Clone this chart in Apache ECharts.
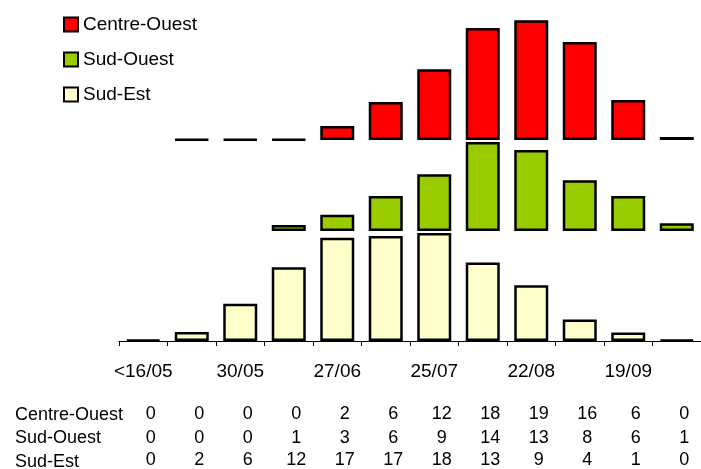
<!DOCTYPE html>
<html>
<head>
<meta charset="utf-8">
<script src="https://cdn.jsdelivr.net/npm/echarts@6/dist/echarts.min.js"></script>
<style>
html, body { margin: 0; padding: 0; background: #fff; }
#main { width: 701px; height: 469px; }
</style>
</head>
<body>
<div id="main"></div>
<script>
// periodes (une sur deux est etiquetee)
var categories = ['<16/05', '', '30/05', '', '27/06', '', '25/07', '', '22/08', '', '19/09', ''];
var nomsSeries = ['Centre-Ouest', 'Sud-Ouest', 'Sud-Est'];

// hauteurs des barres
var centreOuest = [null, 0.1, 0.1, 0.1, 2.3, 6.3, 11.7, 18.5, 19.8, 16.2, 6.6, 0.5];
var sudOuest = [null, null, null, 1.0, 2.7, 5.8, 9.4, 14.7, 13.4, 8.4, 5.8, 1.3];
var sudEst = [0.2, 1.5, 6.2, 12.3, 17.2, 17.5, 18, 13.1, 9.3, 3.6, 1.4, 0.2];

// valeurs du tableau
var tableCentreOuest = [0, 0, 0, 0, 2, 6, 12, 18, 19, 16, 6, 0];
var tableSudOuest = [0, 0, 0, 1, 3, 6, 9, 14, 13, 8, 6, 1];
var tableSudEst = [0, 2, 6, 12, 17, 17, 18, 13, 9, 4, 1, 0];

var couleurs = ['#ff0000', '#99cc00', '#ffffcc'];
var police = 'Liberation Sans, Arial, sans-serif';

function grille(top) {
	return { left: 119, right: -6, top: top, height: 121 };
}

function axeX(index, visible) {
	return {
		type: 'category',
		gridIndex: index,
		data: categories,
		axisLine: { show: visible, lineStyle: { color: '#000', width: 1 } },
		axisTick: { show: visible, length: 5, lineStyle: { color: '#000' } },
		axisLabel: {
			show: visible, interval: 0, margin: 21,
			fontSize: 19, color: '#000', fontFamily: police
		}
	};
}

function axeTableau(valeurs, offset) {
	return {
		type: 'category',
		gridIndex: 2,
		position: 'bottom',
		offset: offset,
		data: valeurs.map(String),
		axisLine: { show: false },
		axisTick: { show: false },
		axisLabel: {
			interval: 0, margin: 0, padding: [0, 0, 0, 15],
			fontSize: 18, color: '#000', fontFamily: police
		}
	};
}

function axeY(index) {
	return { type: 'value', gridIndex: index, min: 0, max: 20, show: false, splitLine: { show: false } };
}

function serie(nom, donnees, index, couleur) {
	return {
		name: nom,
		type: 'bar',
		xAxisIndex: index,
		yAxisIndex: index,
		data: donnees,
		barWidth: 34,
		itemStyle: { color: couleur, borderColor: '#000', borderWidth: 2.5 },
		emphasis: { disabled: true }
	};
}

var myChart = echarts.init(document.getElementById('main'));
option = {
	animation: false,
	legend: {
		orient: 'vertical',
		left: 58,
		top: 10,
		itemWidth: 14,
		itemHeight: 14,
		itemGap: 16,
		icon: 'rect',
		textStyle: { fontSize: 19, color: '#000', fontFamily: police },
		data: nomsSeries
	},
	grid: [grille(19), grille(110), grille(221)],
	xAxis: [
		axeX(0, false), axeX(1, false), axeX(2, true),
		axeTableau(tableCentreOuest, 64),
		axeTableau(tableSudOuest, 88),
		axeTableau(tableSudEst, 110)
	],
	yAxis: [axeY(0), axeY(1), axeY(2)],
	graphic: nomsSeries.map(function(nom, i) {
		return {
			type: 'text',
			left: 15,
			top: 406 + i * 23.5,
			style: { text: nom, fontSize: 18, fill: '#000', fontFamily: police }
		};
	}),
	series: [
		serie(nomsSeries[0], centreOuest, 0, couleurs[0]),
		serie(nomsSeries[1], sudOuest, 1, couleurs[1]),
		serie(nomsSeries[2], sudEst, 2, couleurs[2])
	]
};
myChart.setOption(option);
</script>
</body>
</html>
